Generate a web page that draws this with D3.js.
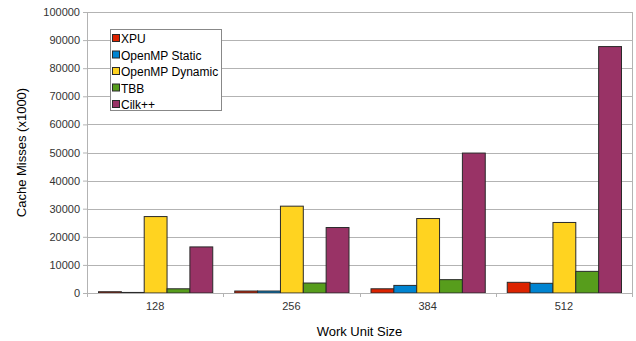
<!DOCTYPE html>
<html>
<head>
<meta charset="utf-8">
<script src="https://cdn.jsdelivr.net/npm/d3@7"></script>
<style>
  body { margin: 0; background: #fff; }
  svg { display: block; font-family: "Liberation Sans", Arial, sans-serif; }
</style>
</head>
<body>
<svg id="chart" width="636" height="341"></svg>
<script>
// Cache misses (x1000) per work unit size, one series per runtime
const categories = ["128", "256", "384", "512"];
const seriesNames = ["XPU", "OpenMP Static", "OpenMP Dynamic", "TBB", "Cilk++"];
const xpu = [450, 700, 1500, 3800];
const ompStatic = [200, 700, 2700, 3450];
const ompDynamic = [27200, 30900, 26500, 25100];
const tbb = [1500, 3550, 4750, 7700];
const cilk = [16400, 23300, 49800, 87700];
const yTicks = [0, 10000, 20000, 30000, 40000, 50000, 60000, 70000, 80000, 90000, 100000];
const colors = ["#dc2300", "#0084d1", "#ffd320", "#579d1c", "#993366"];

const seriesValues = [xpu, ompStatic, ompDynamic, tbb, cilk];

const svg = d3.select("#chart");
const margin = { left: 87, right: 4, top: 12, bottom: 48 };
const W = 636, H = 341;
const plotW = W - margin.left - margin.right;
const plotH = H - margin.top - margin.bottom;

const g = svg.append("g").attr("transform", `translate(${margin.left},${margin.top})`);

const y = d3.scaleLinear().domain([0, 100000]).range([plotH, 0]);
const x0 = d3.scaleBand().domain(categories).range([0, plotW]).paddingInner(0).paddingOuter(0);
const x1 = d3.scaleBand().domain(seriesNames).range([11, x0.bandwidth() - 11]).padding(0);

// horizontal grid
g.append("g").selectAll("line").data(yTicks).join("line")
  .attr("x1", 0).attr("x2", plotW)
  .attr("y1", d => Math.round(y(d)) + 0.5).attr("y2", d => Math.round(y(d)) + 0.5)
  .attr("stroke", "#b3b3b3").attr("stroke-width", 1);

// right wall edge
g.append("line")
  .attr("x1", plotW + 0.5).attr("x2", plotW + 0.5)
  .attr("y1", 0).attr("y2", plotH)
  .attr("stroke", "#b3b3b3");

// bars
const groups = g.append("g").selectAll("g").data(categories).join("g")
  .attr("transform", d => `translate(${x0(d)},0)`);

groups.selectAll("rect")
  .data((c, ci) => seriesNames.map((s, si) => ({ s, si, v: seriesValues[si][ci] })))
  .join("rect")
  .attr("x", d => x1(d.s) + 0.5)
  .attr("width", x1.bandwidth())
  .attr("y", d => y(d.v))
  .attr("height", d => plotH - y(d.v))
  .attr("fill", d => colors[d.si])
  .attr("stroke", "#2a2a2a")
  .attr("stroke-width", 1);

// y axis
const yAxis = g.append("g")
  .call(d3.axisLeft(y).tickValues(yTicks).tickSize(4).tickSizeOuter(0).tickFormat(d3.format("d")));
yAxis.select(".domain").attr("stroke", "#b3b3b3");
yAxis.selectAll(".tick line").attr("stroke", "#b3b3b3");
yAxis.selectAll(".tick text")
  .attr("font-size", 11).attr("fill", "#333").attr("x", -7)
  .style("font-family", "'Liberation Sans', Arial, sans-serif");

// x axis
const xAxis = g.append("g").attr("transform", `translate(0,${plotH})`)
  .call(d3.axisBottom(x0).tickSize(0).tickSizeOuter(0));
xAxis.select(".domain").attr("stroke", "#b3b3b3");
xAxis.selectAll(".tick text")
  .attr("font-size", 11).attr("fill", "#333").attr("dy", "1.25em")
  .style("font-family", "'Liberation Sans', Arial, sans-serif");
// category boundary ticks
const bounds = categories.map(c => x0(c)).concat([plotW]);
xAxis.append("g").selectAll("line").data(bounds).join("line")
  .attr("x1", d => Math.round(d) + 0.5).attr("x2", d => Math.round(d) + 0.5)
  .attr("y1", 0).attr("y2", 4)
  .attr("stroke", "#b3b3b3");

// axis titles
svg.append("text")
  .attr("transform", `translate(26,${margin.top + plotH / 2}) rotate(-90)`)
  .attr("text-anchor", "middle")
  .attr("font-size", 13).attr("fill", "#000")
  .text("Cache Misses (x1000)");

svg.append("text")
  .attr("x", margin.left + plotW / 2).attr("y", 336)
  .attr("text-anchor", "middle")
  .attr("font-size", 13).attr("fill", "#000")
  .text("Work Unit Size");

// legend
const legend = svg.append("g").attr("transform", "translate(110.5,29.5)");
legend.append("rect")
  .attr("width", 111).attr("height", 81)
  .attr("fill", "#fff").attr("stroke", "#888");
const items = legend.selectAll("g.item").data(seriesNames).join("g")
  .attr("class", "item")
  .attr("transform", (d, i) => `translate(2,${5 + i * 16.5})`);
items.append("rect")
  .attr("width", 7).attr("height", 7).attr("y", 0)
  .attr("fill", (d, i) => colors[i]).attr("stroke", "#2a2a2a");
items.append("text")
  .attr("x", 8.5).attr("y", 8.5)
  .attr("font-size", 12).attr("fill", "#000")
  .text(d => d);
</script>
</body>
</html>
